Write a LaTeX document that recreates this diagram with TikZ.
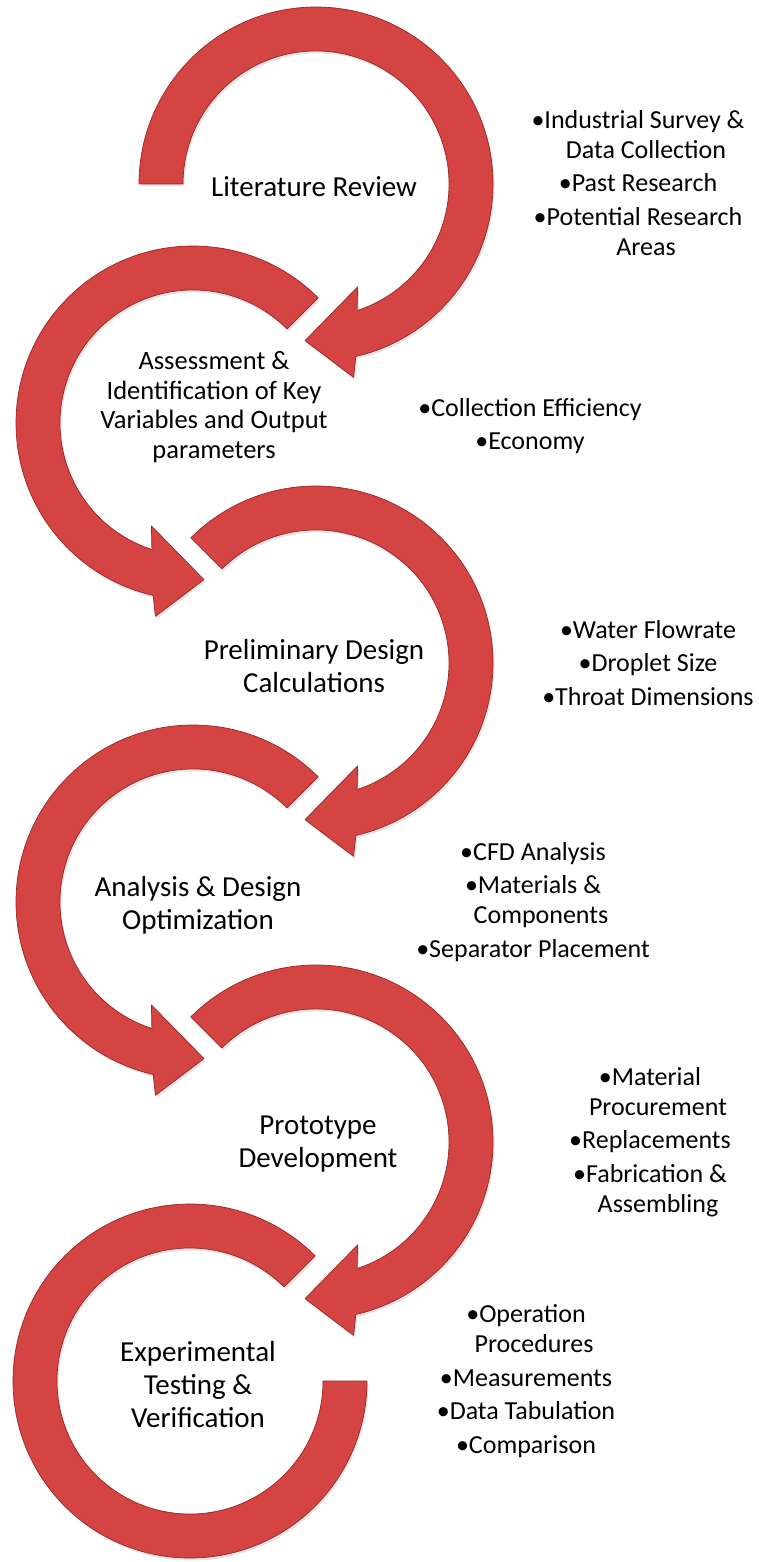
\documentclass[tikz,border=0pt]{standalone}
\usepackage{fontspec}
\setmainfont{Carlito}
\usetikzlibrary{shadows}

\definecolor{arrowred}{RGB}{212,68,66}
\definecolor{arrowedge}{RGB}{155,36,36}

\newcommand{\wrapline}{\hspace*{16pt}}

\begin{document}
\begin{tikzpicture}[x=1pt,y=1pt,
  ringarrow/.style={fill=arrowred,draw=arrowedge,line width=0.7pt,line join=round,
    drop shadow={opacity=0.2,shadow xshift=1.5pt,shadow yshift=-2.5pt}},
  steplabel/.style={align=center,font=\fontsize{29}{33}\selectfont,inner sep=0pt},
  notelist/.style={align=center,font=\fontsize{26}{30}\selectfont,inner sep=0pt}]
\useasboundingbox (0,-1562) rectangle (759,0);
% rings on the right run clockwise, \tail is where the band starts
\foreach \cy/\tail in {184/180,663/135,1142/135}
{
    \draw[ringarrow,shift={(316,-\cy)}] (\tail:177) arc[start angle=\tail,end angle=-77,radius=177]
        -- (-79:197) -- (-94:157) -- (-68:111) -- (-72:133)
        arc[start angle=-72,end angle=\tail,radius=133] -- cycle;
}
% rings on the left run counter-clockwise
\foreach \cy in {423,902}
{
    \draw[ringarrow,shift={(193,-\cy)}] (45:177) arc[start angle=45,end angle=257,radius=177]
        -- (259:197) -- (274:157) -- (248:111) -- (252:133)
        arc[start angle=252,end angle=45,radius=133] -- cycle;
}
% last ring, no head
\draw[ringarrow,shift={(190,-1381)}] (45:177) arc[start angle=45,end angle=360,radius=177]
    -- (0:133) arc[start angle=360,end angle=45,radius=133] -- cycle;

% step names inside the rings
\node[steplabel] (lit) at (314,-187) {Literature Review};
\node[steplabel,font=\fontsize{26.5}{29.5}\selectfont] (assess) at (214,-407) {Assessment \&\\Identification of Key\\Variables and Output\\parameters};
\node[steplabel] (prelim) at (314,-666) {Preliminary Design\\Calculations};
\node[steplabel] (analysis) at (198,-905) {Analysis \& Design\\Optimization};
\node[steplabel] (proto) at (318,-1144) {Prototype\\Development};
\node[steplabel] (exper) at (198,-1385) {Experimental\\Testing \&\\Verification};

% bullet notes beside each step
\node[notelist] (litnotes) at (638,-183) {•Industrial Survey \&\\\wrapline Data Collection\\[3.5pt]•Past Research\\[3.5pt]•Potential Research\\\wrapline Areas};
\node[notelist] (assessnotes) at (530,-426) {•Collection Efficiency\\[3.5pt]•Economy};
\node[notelist] (prelimnotes) at (648,-663) {•Water Flowrate\\[3.5pt]•Droplet Size\\[3.5pt]•Throat Dimensions};
\node[notelist] (analysisnotes) at (533,-902) {•CFD Analysis\\[3.5pt]•Materials \&\\\wrapline Components\\[3.5pt]•Separator Placement};
\node[notelist] (protonotes) at (650,-1142) {•Material\\\wrapline Procurement\\[3.5pt]•Replacements\\[3.5pt]•Fabrication \&\\\wrapline Assembling};
\node[notelist] (expernotes) at (526,-1381) {•Operation\\\wrapline Procedures\\[3.5pt]•Measurements\\[3.5pt]•Data Tabulation\\[3.5pt]•Comparison};
\end{tikzpicture}
\end{document}
